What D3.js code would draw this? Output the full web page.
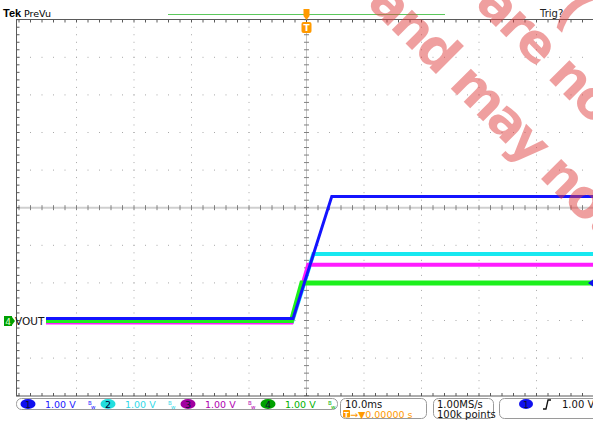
<!DOCTYPE html>
<html>
<head>
<meta charset="utf-8">
<script src="https://cdn.jsdelivr.net/npm/d3@7"></script>
<style>
  body { margin: 0; background: #fff; }
  text { font-family: "DejaVu Sans", sans-serif; }
</style>
</head>
<body>
<div id="scope"></div>
<script>
// Scope capture: four rails ramping up after the trigger

// time in ms, volts per channel
const CH1_T = [-45.3, -2.35, 4.4, 50];
const CH1_V = [0.05, 0.05, 3.3, 3.3];
const CH2_T = [-45.3, -2.5, 1.2, 50];
const CH2_V = [-0.03, -0.03, 1.77, 1.77];
const CH3_T = [-45.3, -2.6, 0.3, 50];
const CH3_V = [-0.05, -0.05, 1.48, 1.48];
const CH4_T = [-45.3, -2.6, -0.8, 50];
const CH4_V = [0, 0, 1.0, 1.0];

const CH_NAMES = ["1", "2", "3", "4"];
const CH_SCALE = ["1.00 V", "1.00 V", "1.00 V", "1.00 V"];
const TIME_DIV = "10.0ms";
const TRIG_POS = "0.00000 s";
const SAMPLE_RATE = "1.00MS/s";
const RECORD_LEN = "100k points";
const TRIG_LEVEL = 1.0;

// dimensions
const FRAME_WIDTH = 593;
const FRAME_HEIGHT = 422;
const GROUND_DIV = -3;   // channel ground marker, in divisions

const COLORS = {"1": "#1414ff", "2": "#18e8f0", "3": "#ff1cff", "4": "#1cf01c"};
const TAG_FILL = {"1": "#1010ee", "2": "#22dede", "3": "#a000a0", "4": "#00a000"};
const TEXT_COL = {"1": "#2020ff", "2": "#30d8e8", "3": "#b000b0", "4": "#00b000"};
const ORANGE = "#ff9a00";

const svg = d3.select("#scope")
              .append("svg")
                .attr("width", FRAME_WIDTH)
                .attr("height", FRAME_HEIGHT);

// time axis: 10 divs of 10 ms, vertical: 10 divs
const X_SCALE = d3.scaleLinear().domain([-50, 50]).range([19, 594]);
const Y_SCALE = d3.scaleLinear().domain([-5, 5]).range([395.7, 19.7]);
const voltY = (v) => Y_SCALE(v / 1.0 + GROUND_DIV);

const minorX = d3.range(-50, 50.01, 2);
const minorY = d3.range(-5, 5.01, 0.2);
const majorX = d3.range(-40, 41, 10).filter((d) => d !== 0);
const majorY = d3.range(-4, 5, 1).filter((d) => d !== 0);

// dotted grid
const grid = svg.append("g").attr("fill", "#a8a8a8");
majorX.forEach((t) => {
  grid.selectAll(null).data(minorY).enter().append("rect")
      .attr("x", X_SCALE(t) - 0.5).attr("y", (d) => Y_SCALE(d) - 0.5)
      .attr("width", 1).attr("height", 1);
});
majorY.forEach((v) => {
  grid.selectAll(null).data(minorX).enter().append("rect")
      .attr("x", (d) => X_SCALE(d) - 0.5).attr("y", Y_SCALE(v) - 0.5)
      .attr("width", 1).attr("height", 1);
});

// center cross with ticks
svg.append("line")
   .attr("x1", 16).attr("x2", FRAME_WIDTH)
   .attr("y1", Y_SCALE(0)).attr("y2", Y_SCALE(0))
   .attr("stroke", "#cfcfcf").attr("stroke-width", 2);
svg.append("line")
   .attr("x1", X_SCALE(0)).attr("x2", X_SCALE(0))
   .attr("y1", Y_SCALE(5)).attr("y2", Y_SCALE(-5))
   .attr("stroke", "#c4c4c4").attr("stroke-width", 1);
svg.append("g").selectAll("line").data(minorX).enter().append("line")
   .attr("x1", (d) => X_SCALE(d)).attr("x2", (d) => X_SCALE(d))
   .attr("y1", Y_SCALE(0) - 2.5).attr("y2", Y_SCALE(0) + 2.5)
   .attr("stroke", "#808080");
svg.append("g").selectAll("line").data(minorY).enter().append("line")
   .attr("x1", X_SCALE(0) - 2.5).attr("x2", X_SCALE(0) + 2.5)
   .attr("y1", (d) => Y_SCALE(d)).attr("y2", (d) => Y_SCALE(d))
   .attr("stroke", "#808080");

// borders with edge ticks
const frame = svg.append("g").attr("stroke", "#5a5a5a");
frame.append("line").attr("x1", 16.5).attr("x2", 16.5).attr("y1", 19.5).attr("y2", 396);
frame.append("line").attr("x1", 16).attr("x2", FRAME_WIDTH).attr("y1", 19.5).attr("y2", 19.5);
frame.append("line").attr("x1", 16).attr("x2", FRAME_WIDTH).attr("y1", 396).attr("y2", 396);
frame.selectAll(null).data(minorX).enter().append("line")
     .attr("x1", (d) => X_SCALE(d)).attr("x2", (d) => X_SCALE(d))
     .attr("y1", 19.5).attr("y2", 22.5);
frame.selectAll(null).data(minorX).enter().append("line")
     .attr("x1", (d) => X_SCALE(d)).attr("x2", (d) => X_SCALE(d))
     .attr("y1", 393).attr("y2", 396);
frame.selectAll(null).data(minorY).enter().append("line")
     .attr("x1", 16.5).attr("x2", 19.5)
     .attr("y1", (d) => Y_SCALE(d)).attr("y2", (d) => Y_SCALE(d));

// traces
const traces = [
  {ch: "2", t: CH2_T, v: CH2_V, w: 4},
  {ch: "3", t: CH3_T, v: CH3_V, w: 4},
  {ch: "4", t: CH4_T, v: CH4_V, w: 5},
  {ch: "1", t: CH1_T, v: CH1_V, w: 3}
];
const line = d3.line()
               .x((d) => X_SCALE(d[0]))
               .y((d) => voltY(d[1]));
svg.append("g").selectAll("path").data(traces).enter().append("path")
   .attr("d", (d) => line(d3.zip(d.t, d.v)))
   .attr("fill", "none")
   .attr("stroke", (d) => COLORS[d.ch])
   .attr("stroke-width", (d) => d.w)
   .attr("stroke-linejoin", "miter");

// trigger level arrow on the right edge (ch1)
const ty = voltY(TRIG_LEVEL);
svg.append("path")
   .attr("d", `M${FRAME_WIDTH},${ty - 3.5} L${FRAME_WIDTH - 5},${ty} L${FRAME_WIDTH},${ty + 3.5} Z`)
   .attr("fill", "#1010ee");

// ground marker for ch4
const gy = voltY(0) + 0.5;
svg.append("rect").attr("x", 4).attr("y", gy - 5).attr("width", 8).attr("height", 10)
   .attr("fill", TAG_FILL["4"]);
svg.append("path").attr("d", `M12,${gy - 4} L15,${gy} L12,${gy + 4} Z`).attr("fill", TAG_FILL["4"]);
svg.append("text").attr("x", 8).attr("y", gy + 3.5).attr("text-anchor", "middle")
   .attr("font-size", 9).attr("fill", "#dfffd0").text("4");
svg.append("text").attr("x", 15).attr("y", gy + 4).attr("font-size", 10.5)
   .attr("fill", "#111").text("VOUT");

// header
svg.append("text").attr("x", 3).attr("y", 16.5)
   .style("font-family", "Liberation Sans, sans-serif")
   .attr("font-weight", "bold").attr("font-size", 11).text("Tek");
svg.append("text").attr("x", 24).attr("y", 16.5).attr("font-size", 9.5).text("PreVu");
svg.append("text").attr("x", 540).attr("y", 17).attr("font-size", 10).attr("fill", "#222").text("Trig?");
svg.append("line").attr("x1", 168).attr("x2", 445).attr("y1", 14.5).attr("y2", 14.5)
   .attr("stroke", "#5cc85c").attr("stroke-width", 1.2);

// trigger position markers
const tx = X_SCALE(0);
svg.append("rect").attr("x", tx - 3).attr("y", 9).attr("width", 6).attr("height", 7).attr("fill", ORANGE);
svg.append("path").attr("d", `M${tx - 3},${16} L${tx + 3},${16} L${tx},${20} Z`).attr("fill", ORANGE);
svg.append("rect").attr("x", tx - 5).attr("y", 22).attr("width", 10).attr("height", 11).attr("rx", 2)
   .attr("fill", ORANGE);
svg.append("text").attr("x", tx).attr("y", 31).attr("text-anchor", "middle")
   .attr("font-size", 9).attr("font-weight", "bold").attr("fill", "#fff").text("T");

// watermark
const wm = svg.append("g")
              .style("font-family", "Liberation Sans, Arial, sans-serif")
              .attr("font-weight", "bold").attr("font-size", 52)
              .attr("letter-spacing", -3)
              .attr("fill", "#e04040").attr("fill-opacity", 0.5);
[[366, 4, "and may not be"], [474, 5, "are not"], [553, 14, "("]].forEach((w) => {
  wm.append("text")
    .attr("transform", `translate(${w[0]},${w[1]}) rotate(45)`)
    .text(w[2]);
});

// bottom readout boxes
const boxes = svg.append("g").attr("fill", "#fff").attr("stroke", "#9a9a9a");
boxes.append("rect").attr("x", 16.5).attr("y", 398.5).attr("width", 321).attr("height", 11).attr("rx", 5);
boxes.append("rect").attr("x", 340.5).attr("y", 398.5).attr("width", 86).attr("height", 20).attr("rx", 5);
boxes.append("rect").attr("x", 433.5).attr("y", 398.5).attr("width", 60).attr("height", 20).attr("rx", 5);
boxes.append("rect").attr("x", 499.5).attr("y", 398.5).attr("width", 110).attr("height", 20).attr("rx", 5);

const CH_X = d3.scaleBand().domain(CH_NAMES).range([20, 340]);
const chg = svg.append("g").selectAll("g").data(CH_NAMES).enter().append("g")
               .attr("transform", (d) => `translate(${CH_X(d)},404)`);
chg.append("ellipse").attr("cx", 8).attr("cy", 0).attr("rx", 7.5).attr("ry", 5)
   .attr("fill", (d) => TAG_FILL[d]);
chg.append("text").attr("x", 8).attr("y", 3.5).attr("text-anchor", "middle")
   .attr("font-size", 9.5).attr("fill", (d) => d === "2" ? "#003" : "#101030").text((d) => d);
chg.append("text").attr("x", 25).attr("y", 4).attr("font-size", 9.5)
   .attr("fill", (d) => TEXT_COL[d]).text((d, i) => CH_SCALE[i]);
chg.append("text").attr("x", 68).attr("y", 1).attr("font-size", 5.5)
   .attr("fill", (d) => TEXT_COL[d]).text("B");
chg.append("text").attr("x", 71).attr("y", 5).attr("font-size", 5.5)
   .attr("fill", (d) => TEXT_COL[d]).text("w");

svg.append("text").attr("x", 345).attr("y", 407.5).attr("font-size", 10).attr("fill", "#111").text(TIME_DIV);
svg.append("rect").attr("x", 343).attr("y", 410).attr("width", 7).attr("height", 7.5).attr("rx", 1).attr("fill", ORANGE);
svg.append("text").attr("x", 346.5).attr("y", 416.5).attr("text-anchor", "middle")
   .attr("font-size", 7).attr("font-weight", "bold").attr("fill", "#fff").text("T");
svg.append("text").attr("x", 350).attr("y", 417.5).attr("font-size", 9.5).attr("fill", ORANGE)
   .text("\u2192\u25BC" + TRIG_POS);

svg.append("text").attr("x", 437).attr("y", 407.5).attr("font-size", 10).attr("fill", "#111").text(SAMPLE_RATE);
svg.append("text").attr("x", 437).attr("y", 417.5).attr("font-size", 10).attr("fill", "#111").text(RECORD_LEN);

svg.append("ellipse").attr("cx", 526).attr("cy", 404).attr("rx", 7).attr("ry", 5).attr("fill", TAG_FILL["1"]);
svg.append("text").attr("x", 526).attr("y", 407.5).attr("text-anchor", "middle")
   .attr("font-size", 9.5).attr("fill", "#101030").text("1");
svg.append("path").attr("d", "M543,409 L546,409 L548,400 L551,400")
   .attr("fill", "none").attr("stroke", "#111").attr("stroke-width", 1.3);
svg.append("text").attr("x", 562).attr("y", 407.5).attr("font-size", 10).attr("fill", "#111")
   .text(TRIG_LEVEL.toFixed(2) + " V");
</script>
</body>
</html>
